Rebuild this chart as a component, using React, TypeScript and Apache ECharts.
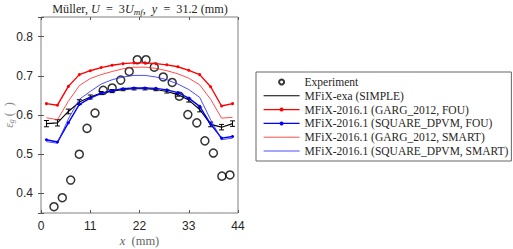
import React, { useEffect, useRef } from 'react';
import * as echarts from 'echarts';

// x positions (mm) of the simulation cells
const simX = [1.22, 3.67, 6.11, 8.56, 11.0, 13.44, 15.89, 18.33, 20.78, 23.22, 25.67, 28.11, 30.56, 33.0, 35.44, 37.89, 40.33, 42.78];

// Experiment
const expX = [2.9, 4.76, 6.63, 8.55, 10.27, 12.06, 13.9, 15.9, 17.8, 19.7, 21.5, 23.45, 25.3, 27.3, 29.3, 30.9, 32.8, 34.8, 36.6, 38.5, 40.4, 42.2];
const expY = [0.366, 0.389, 0.434, 0.5, 0.566, 0.605, 0.663, 0.669, 0.689, 0.711, 0.741, 0.741, 0.722, 0.697, 0.683, 0.648, 0.601, 0.58, 0.534, 0.503, 0.444, 0.447];

// MFiX-exa (SIMPLE) with error bars
const exaY = [0.578, 0.58, 0.609, 0.633, 0.646, 0.656, 0.661, 0.665, 0.667, 0.667, 0.665, 0.66, 0.652, 0.638, 0.614, 0.576, 0.569, 0.578];
const exaErr = [0.008, 0.008, 0.006, 0.006, 0.005, 0.004, 0.004, 0.003, 0.003, 0.003, 0.003, 0.004, 0.004, 0.005, 0.006, 0.006, 0.007, 0.007];

// MFiX-2016.1 series
const gargFou = [0.629, 0.625, 0.673, 0.703, 0.713, 0.721, 0.727, 0.731, 0.733, 0.733, 0.731, 0.728, 0.723, 0.714, 0.703, 0.672, 0.623, 0.629];
const squareFou = [0.537, 0.531, 0.58, 0.627, 0.643, 0.655, 0.662, 0.667, 0.669, 0.669, 0.668, 0.664, 0.657, 0.643, 0.622, 0.577, 0.541, 0.545];
const gargSmart = [0.593, 0.588, 0.635, 0.675, 0.693, 0.703, 0.711, 0.718, 0.722, 0.722, 0.719, 0.713, 0.705, 0.694, 0.677, 0.64, 0.592, 0.594];
const squareSmart = [0.532, 0.528, 0.59, 0.64, 0.66, 0.679, 0.69, 0.697, 0.701, 0.701, 0.697, 0.69, 0.679, 0.665, 0.645, 0.588, 0.537, 0.541];

const xTicks = [0, 11, 22, 33, 44];
const yTicks = [0.4, 0.5, 0.6, 0.7, 0.8];

const names = [
  'Experiment',
  'MFiX-exa (SIMPLE)',
  'MFiX-2016.1 (GARG_2012, FOU)',
  'MFiX-2016.1 (SQUARE_DPVM, FOU)',
  'MFiX-2016.1 (GARG_2012, SMART)',
  'MFiX-2016.1 (SQUARE_DPVM, SMART)',
];

const serif = '"Liberation Serif", "DejaVu Serif", serif';
const sans = '"Liberation Sans", Arial, sans-serif';

const pair = (xs: number[], ys: number[]) => xs.map((x, i) => [x, ys[i]]);

export default function App() {
  const ref = useRef<HTMLDivElement>(null);
  useEffect(() => {
    if (!ref.current) return;
    const chart = echarts.init(ref.current, undefined, { renderer: 'svg' });
    const axisCommon = {
      type: 'value',
      splitLine: { show: false },
      axisLine: { show: false },
      axisTick: { show: true, inside: true, length: 3, lineStyle: { color: '#555', width: 1 } },
    };
    const dark = '#262626';
    chart.setOption({
      animation: false,
      grid: { left: 41, top: 17, width: 197, height: 196, show: true, borderColor: '#808080', borderWidth: 1, backgroundColor: '#fff' },
      xAxis: [
        {
          ...axisCommon,
          min: 0, max: 44, interval: 11,
          axisLabel: { margin: 7, color: dark, fontSize: 12, fontFamily: sans, formatter: (v: number) => (xTicks.includes(v) ? String(v) : '') },
        },
        { ...axisCommon, position: 'top', min: 0, max: 44, interval: 11, axisLabel: { show: false } },
      ],
      yAxis: [
        {
          ...axisCommon,
          min: 0.35, max: 0.85,
          axisLabel: {
            margin: 8, color: dark, fontSize: 12, fontFamily: sans,
            formatter: (v: number) => {
              const t = yTicks.find((y) => Math.abs(y - v) < 1e-6);
              return t !== undefined ? t.toFixed(1) : '';
            },
          },
        },
        { ...axisCommon, position: 'right', min: 0.35, max: 0.85, axisLabel: { show: false } },
      ],
      legend: {
        data: [
          { name: names[0] },
          { name: names[1], itemStyle: { opacity: 0 }, lineStyle: { width: 1.1 } },
          { name: names[2], lineStyle: { width: 1.2 } },
          { name: names[3], lineStyle: { width: 1.2 } },
          { name: names[4], itemStyle: { opacity: 0 }, lineStyle: { width: 0.8 } },
          { name: names[5], itemStyle: { opacity: 0 }, lineStyle: { width: 0.8 } },
        ],
        orient: 'vertical',
        left: 256, top: 72,
        padding: [4, 3, 4, 7],
        itemWidth: 36, itemHeight: 5, itemGap: 1.8,
        borderColor: '#666', borderWidth: 1, backgroundColor: '#fff',
        textStyle: { fontFamily: serif, fontSize: 11.5, lineHeight: 10, color: dark },
      },
      graphic: [
        {
          type: 'text', x: 140, y: 9,
          style: {
            text: '{n|Müller, }{i|U}{n|  =  3}{i|U}{sub|mf}{n|,  }{i|y}{n|  =  31.2 (mm)}',
            align: 'center', verticalAlign: 'middle',
            rich: {
              n: { fontFamily: serif, fontSize: 12.2, fill: dark },
              i: { fontFamily: serif, fontSize: 12.2, fontStyle: 'italic', fill: dark },
              sub: { fontFamily: serif, fontSize: 9, fontStyle: 'italic', fill: dark, verticalAlign: 'bottom', padding: [5, 0, 0, 0] },
            },
          },
        },
        {
          type: 'text', x: 139.5, y: 241,
          style: {
            text: '{i|x}{n|  (mm)}',
            align: 'center', verticalAlign: 'middle',
            rich: {
              n: { fontFamily: serif, fontSize: 12.5, fill: '#666' },
              i: { fontFamily: serif, fontSize: 12.5, fontStyle: 'italic', fill: '#666' },
            },
          },
        },
        {
          type: 'text', x: 9, y: 115, rotation: Math.PI / 2,
          style: {
            text: '{i|ε}{s|g}{n| (  )}',
            align: 'center', verticalAlign: 'middle',
            rich: {
              n: { fontFamily: serif, fontSize: 12, fill: '#888' },
              i: { fontFamily: serif, fontSize: 12, fontStyle: 'italic', fill: '#888' },
              s: { fontFamily: serif, fontSize: 8, fontStyle: 'italic', fill: '#888', verticalAlign: 'bottom', padding: [4, 0, 0, 0] },
            },
          },
        },
      ],
      series: [
        {
          name: names[0], type: 'scatter', data: pair(expX, expY),
          symbol: 'circle', symbolSize: 8,
          itemStyle: { color: 'rgba(255,255,255,0)', borderColor: '#000', borderWidth: 1.5 },
          z: 2,
        },
        {
          name: names[1], type: 'line', data: pair(simX, exaY),
          symbol: 'none', lineStyle: { color: '#000', width: 1.1 }, itemStyle: { color: '#000' }, z: 3,
        },
        {
          name: 'err', type: 'custom', z: 3,
          data: simX.map((x, i) => [x, exaY[i] - exaErr[i], exaY[i] + exaErr[i]]),
          encode: { x: 0, y: [1, 2] },
          renderItem: (_p: any, api: any) => {
            const x = api.value(0);
            const a = api.coord([x, api.value(1)]);
            const b = api.coord([x, api.value(2)]);
            const w = 2.5;
            const st = { stroke: '#000', lineWidth: 1 };
            return {
              type: 'group',
              children: [
                { type: 'line', shape: { x1: a[0], y1: a[1], x2: b[0], y2: b[1] }, style: st },
                { type: 'line', shape: { x1: a[0] - w, y1: a[1], x2: a[0] + w, y2: a[1] }, style: st },
                { type: 'line', shape: { x1: b[0] - w, y1: b[1], x2: b[0] + w, y2: b[1] }, style: st },
              ],
            };
          },
        },
        {
          name: names[2], type: 'line', data: pair(simX, gargFou),
          symbol: 'circle', symbolSize: 3, showSymbol: true,
          lineStyle: { color: '#ff0000', width: 1.4 }, itemStyle: { color: '#ff0000' }, z: 4,
        },
        {
          name: names[3], type: 'line', data: pair(simX, squareFou),
          symbol: 'circle', symbolSize: 3, showSymbol: true,
          lineStyle: { color: '#0000ff', width: 1.4 }, itemStyle: { color: '#0000ff' }, z: 4,
        },
        {
          name: names[4], type: 'line', data: pair(simX, gargSmart),
          symbol: 'none', lineStyle: { color: '#ff2020', width: 0.8 }, itemStyle: { color: '#ff2020' }, z: 4,
        },
        {
          name: names[5], type: 'line', data: pair(simX, squareSmart),
          symbol: 'none', lineStyle: { color: '#2020ff', width: 0.8 }, itemStyle: { color: '#2020ff' }, z: 4,
        },
      ],
    });
    return () => chart.dispose();
  }, []);
  return <div ref={ref} style={{ position: 'fixed', left: 0, top: 0, width: 513, height: 249, background: '#fff' }} />;
}
